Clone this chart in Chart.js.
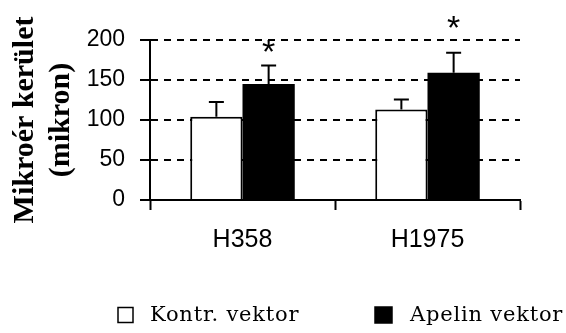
<!DOCTYPE html>
<html>
<head>
<meta charset="utf-8">
<script src="https://cdn.jsdelivr.net/npm/chart.js@4.4.1/dist/chart.umd.min.js"></script>
<style>
  html, body { margin: 0; padding: 0; background: #fff; }
  #wrap { width: 566px; height: 333px; }
</style>
</head>
<body>
<div id="wrap"><canvas id="c" width="566" height="333"></canvas></div>
<script>
const categories = ['H358', 'H1975'];
const seriesNames = ['Kontr. vektor', 'Apelin vektor'];
const kontrValues = [104, 113];
const apelinValues = [145, 159];
const kontrErrors = [18.5, 12.5];
const apelinErrors = [23, 25];
const starValues = [192, 222];
const yTicks = [0, 50, 100, 150, 200];
const yTitle = ['Mikroér kerület', '(mikron)'];

const errorBars = {
  id: 'errorBars',
  afterDatasetsDraw(chart) {
    const ctx = chart.ctx;
    const y = chart.scales.y;
    const errs = [kontrErrors, apelinErrors];
    const vals = [kontrValues, apelinValues];
    ctx.save();
    ctx.strokeStyle = '#000';
    ctx.lineWidth = 2;
    chart.data.datasets.forEach((ds, di) => {
      const meta = chart.getDatasetMeta(di);
      meta.data.forEach((bar, i) => {
        const top = y.getPixelForValue(vals[di][i] + errs[di][i]);
        const base = y.getPixelForValue(vals[di][i]);
        ctx.beginPath();
        ctx.moveTo(bar.x, base);
        ctx.lineTo(bar.x, top);
        ctx.moveTo(bar.x - 7.5, top);
        ctx.lineTo(bar.x + 7.5, top);
        ctx.stroke();
      });
    });
    // significance stars above the Apelin bars
    const meta = chart.getDatasetMeta(1);
    ctx.fillStyle = '#000';
    ctx.font = '34px "Liberation Sans", Arial, sans-serif';
    ctx.textAlign = 'center';
    ctx.textBaseline = 'alphabetic';
    const m = ctx.measureText('*');
    const off = (m.actualBoundingBoxAscent - m.actualBoundingBoxDescent) / 2;
    meta.data.forEach((bar, i) => {
      ctx.fillText('*', bar.x, y.getPixelForValue(starValues[i]) + off);
    });
    ctx.restore();
  }
};

const customLegend = {
  id: 'customLegend',
  afterDraw(chart) {
    const ctx = chart.ctx;
    const items = [
      { box: [118, 307.5, 15, 15], textX: 150 },
      { box: [375, 307, 17, 16], textX: 410 }
    ];
    ctx.save();
    ctx.font = '21px "DejaVu Serif", serif';
    try { ctx.letterSpacing = '0.8px'; } catch (e) {}
    ctx.textBaseline = 'middle';
    ctx.textAlign = 'left';
    chart.data.datasets.forEach((ds, i) => {
      const it = items[i];
      const [bx, by, bw, bh] = it.box;
      ctx.fillStyle = ds.backgroundColor;
      ctx.fillRect(bx, by, bw, bh);
      ctx.strokeStyle = '#000';
      ctx.lineWidth = 1.5;
      ctx.strokeRect(bx, by, bw, bh);
      ctx.fillStyle = '#000';
      ctx.fillText(ds.label, it.textX, by + bh / 2 + 1);
    });
    ctx.restore();
  }
};

new Chart(document.getElementById('c'), {
  type: 'bar',
  data: {
    labels: categories,
    datasets: [
      { label: seriesNames[0], data: kontrValues, backgroundColor: '#ffffff', borderColor: '#000000', borderWidth: 2, borderSkipped: 'bottom' },
      { label: seriesNames[1], data: apelinValues, backgroundColor: '#000000', borderColor: '#000000', borderWidth: 0 }
    ]
  },
  options: {
    responsive: false,
    animation: false,
    devicePixelRatio: 1,
    datasets: { bar: { categoryPercentage: 0.565, barPercentage: 1.0 } },
    layout: { padding: { left: 0, right: 46, top: 40, bottom: 0 } },
    plugins: { legend: { display: false }, tooltip: { enabled: false } },
    scales: {
      x: {
        grid: { offset: true, drawOnChartArea: false, drawTicks: true, tickLength: 10, tickWidth: 2, tickColor: '#000' },
        border: { display: true, color: '#000', width: 2 },
        ticks: { color: '#000', font: { family: '"Liberation Sans", Arial, sans-serif', size: 25 }, padding: 15 },
        afterFit(s) { s.height = 133; }
      },
      y: {
        min: 0, max: 200,
        afterBuildTicks(s) { s.ticks = yTicks.map(v => ({ value: v })); },
        ticks: { color: '#000', font: { family: '"Liberation Sans", Arial, sans-serif', size: 23 }, padding: 15 },
        grid: { color: '#000', lineWidth: 2, tickLength: 10, tickWidth: 2, tickColor: '#000' },
        border: { display: true, color: '#000', width: 2, dash: [7, 6] },
        title: {
          display: true, text: yTitle, color: '#000',
          font: { family: '"Liberation Serif", "Times New Roman", serif', size: 30, weight: 'bold', lineHeight: 1.2 },
          padding: { top: 7, bottom: 0 }
        },
        afterFit(s) { s.width = 150; }
      }
    }
  },
  plugins: [errorBars, customLegend]
});
</script>
</body>
</html>
